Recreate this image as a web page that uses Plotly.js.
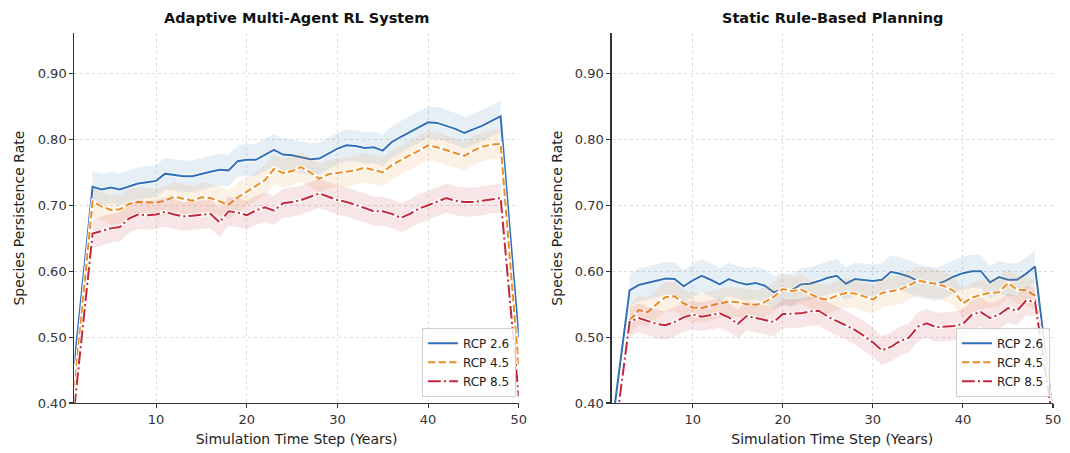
<!DOCTYPE html>
<html><head><meta charset="utf-8">
<script src="https://cdn.plot.ly/plotly-3.0.1.min.js"></script>
<style>html,body{margin:0;padding:0;background:#fff;} #chart{width:1070px;height:453px;}</style>
</head><body><div id="chart"></div>
<script>
// ---- data ----
const steps = Array.from({length: 50}, (_, i) => i + 1);
const bandFirstStep = 3, bandLastStep = 48;
const seriesNames = ['RCP 2.6', 'RCP 4.5', 'RCP 8.5'];
const panelTitles = ['Adaptive Multi-Agent RL System', 'Static Rule-Based Planning'];
const xTickVals = [10, 20, 30, 40, 50];
const yTickVals = [0.4, 0.5, 0.6, 0.7, 0.8, 0.9];

const adaptiveRcp26 = [0.460,0.594,0.728,0.724,0.727,0.724,0.729,0.733,0.735,0.737,
  0.748,0.746,0.744,0.744,0.748,0.751,0.754,0.753,0.767,0.769,
  0.769,0.776,0.784,0.777,0.776,0.773,0.770,0.771,0.778,0.786,
  0.791,0.790,0.787,0.788,0.783,0.796,0.804,0.811,0.819,0.826,
  0.825,0.821,0.816,0.810,0.815,0.821,0.828,0.835,0.665,0.500];
const adaptiveRcp45 = [0.424,0.565,0.706,0.698,0.693,0.694,0.702,0.705,0.704,0.704,
  0.707,0.713,0.710,0.707,0.712,0.711,0.706,0.701,0.712,0.721,
  0.729,0.738,0.755,0.749,0.752,0.758,0.750,0.740,0.747,0.749,
  0.750,0.753,0.757,0.754,0.750,0.761,0.769,0.776,0.783,0.791,
  0.788,0.784,0.779,0.775,0.783,0.789,0.792,0.793,0.622,0.455];
const adaptiveRcp85 = [0.395,0.526,0.657,0.661,0.665,0.667,0.680,0.686,0.685,0.686,
  0.690,0.686,0.683,0.684,0.686,0.687,0.674,0.691,0.689,0.685,
  0.692,0.697,0.692,0.703,0.705,0.708,0.713,0.718,0.713,0.708,
  0.705,0.701,0.696,0.691,0.691,0.687,0.681,0.687,0.695,0.700,
  0.705,0.711,0.707,0.705,0.705,0.707,0.710,0.711,0.560,0.410];

const staticRcp26 = [0.360,0.465,0.571,0.579,0.582,0.586,0.589,0.588,0.577,0.586,
  0.593,0.587,0.580,0.588,0.583,0.580,0.582,0.578,0.568,0.572,
  0.571,0.580,0.581,0.585,0.590,0.593,0.581,0.588,0.587,0.585,
  0.587,0.599,0.596,0.592,0.585,0.583,0.580,0.585,0.592,0.597,
  0.600,0.600,0.583,0.591,0.587,0.587,0.596,0.607,0.495,0.383];
const staticRcp45 = [0.318,0.424,0.525,0.541,0.538,0.550,0.561,0.562,0.551,0.545,
  0.544,0.548,0.551,0.554,0.553,0.550,0.549,0.553,0.561,0.573,
  0.570,0.572,0.566,0.559,0.557,0.563,0.567,0.566,0.562,0.557,
  0.567,0.570,0.572,0.578,0.586,0.583,0.581,0.577,0.570,0.551,
  0.560,0.564,0.567,0.568,0.582,0.572,0.571,0.563,0.470,0.380];
const staticRcp85 = [0.314,0.420,0.523,0.529,0.524,0.520,0.518,0.523,0.530,0.534,
  0.531,0.534,0.536,0.530,0.520,0.532,0.529,0.526,0.523,0.535,
  0.536,0.536,0.539,0.540,0.531,0.524,0.518,0.511,0.502,0.492,
  0.480,0.485,0.494,0.499,0.516,0.521,0.515,0.516,0.517,0.520,
  0.534,0.538,0.529,0.534,0.544,0.540,0.555,0.554,0.460,0.370];

// band half-widths (spread around each mean line)
const adaptiveSpread = [0.024, 0.022, 0.022];
const staticSpread = [0.025, 0.022, 0.022];

// ---- styles ----
const lineColors = ['#3070b8', '#e98f27', '#c2273b'];
const fillColors = ['rgba(48,112,184,0.12)', 'rgba(233,143,39,0.12)', 'rgba(194,39,59,0.12)'];
const lineDashes = ['solid', '7.4px,3.2px', '12.8px,3.2px,2px,3.2px'];
const FONT = 'DejaVu Sans, Liberation Sans, sans-serif';

function panelTraces(seriesList, spreads, xa, ya, legendId) {
  const traces = [];
  const i0 = steps.indexOf(bandFirstStep), i1 = steps.indexOf(bandLastStep);
  seriesList.forEach((vals, k) => {
    const bx = steps.slice(i0, i1 + 1);
    const upper = vals.slice(i0, i1 + 1).map(v => v + spreads[k]);
    const lower = vals.slice(i0, i1 + 1).map(v => v - spreads[k]);
    traces.push({
      x: bx.concat(bx.slice().reverse()),
      y: upper.concat(lower.slice().reverse()),
      xaxis: xa, yaxis: ya, type: 'scatter', mode: 'lines',
      fill: 'toself', fillcolor: fillColors[k], line: {width: 0},
      hoverinfo: 'skip', showlegend: false, legend: legendId
    });
    traces.push({
      x: steps, y: vals, xaxis: xa, yaxis: ya, type: 'scatter', mode: 'lines',
      line: {color: 'white', width: 3.6}, hoverinfo: 'skip', showlegend: false, legend: legendId
    });
    traces.push({
      x: steps, y: vals, xaxis: xa, yaxis: ya, type: 'scatter', mode: 'lines',
      name: seriesNames[k], legend: legendId,
      line: {color: lineColors[k], width: 2, dash: lineDashes[k]}
    });
  });
  return traces;
}

const data = [].concat(
  panelTraces([adaptiveRcp26, adaptiveRcp45, adaptiveRcp85], adaptiveSpread, 'x', 'y', 'legend'),
  panelTraces([staticRcp26, staticRcp45, staticRcp85], staticSpread, 'x2', 'y2', 'legend2')
);

function xAxis(domain, anchor) {
  return {
    domain: domain, anchor: anchor, range: [1, 50], tickvals: xTickVals,
    showline: true, linecolor: '#333', linewidth: 1.2, mirror: false,
    ticks: 'outside', ticklen: 4, tickwidth: 1.1, tickcolor: '#333',
    showgrid: true, gridcolor: '#d4d4d4', griddash: 'dot', gridwidth: 0.8,
    zeroline: false, automargin: false,
    tickfont: {family: FONT, size: 13, color: '#333'},
    title: {text: 'Simulation Time Step (Years)', standoff: 8, font: {family: FONT, size: 14, color: '#222'}}
  };
}
function yAxis(domain, anchor) {
  return {
    domain: domain, anchor: anchor, range: [0.40, 0.961], tickvals: yTickVals, tickformat: '.2f',
    showline: true, linecolor: '#333', linewidth: 1.2, mirror: false,
    ticks: 'outside', ticklen: 4, tickwidth: 1.1, tickcolor: '#333',
    showgrid: true, gridcolor: '#d4d4d4', griddash: 'dot', gridwidth: 0.8,
    zeroline: false, automargin: false,
    tickfont: {family: FONT, size: 13, color: '#333'},
    title: {text: 'Species Persistence Rate', standoff: 9, font: {family: FONT, size: 14, color: '#222'}}
  };
}
function legendBox(xRight) {
  return {
    x: xRight, xanchor: 'right', y: 0.124, yanchor: 'bottom', xref: 'paper', yref: 'paper',
    bgcolor: 'rgba(255,255,255,0.85)', bordercolor: '#cfcfcf', borderwidth: 1,
    font: {family: FONT, size: 12, color: '#222'}, itemwidth: 30, tracegroupgap: 0
  };
}

const xd1 = [0.0696, 0.4848], xd2 = [0.5716, 0.9841], yd = [0.1104, 0.9265];
const layout = {
  width: 1070, height: 453,
  margin: {l: 0, r: 0, t: 0, b: 0},
  paper_bgcolor: '#fff', plot_bgcolor: '#fff',
  showlegend: true,
  xaxis: xAxis(xd1, 'y'), yaxis: yAxis(yd, 'x'),
  xaxis2: xAxis(xd2, 'y2'), yaxis2: yAxis(yd, 'x2'),
  legend: legendBox(0.4822),
  legend2: legendBox(0.9813),
  annotations: panelTitles.map((t, i) => ({
    text: '<b>' + t + '</b>', xref: 'paper', yref: 'paper',
    x: (i === 0 ? (xd1[0] + xd1[1]) / 2 : (xd2[0] + xd2[1]) / 2), y: 1 - 18 / 453,
    xanchor: 'center', yanchor: 'middle', showarrow: false,
    font: {family: FONT, size: 14.5, color: '#111'}
  }))
};

Plotly.newPlot('chart', data, layout, {staticPlot: true, displayModeBar: false});
</script></body></html>
